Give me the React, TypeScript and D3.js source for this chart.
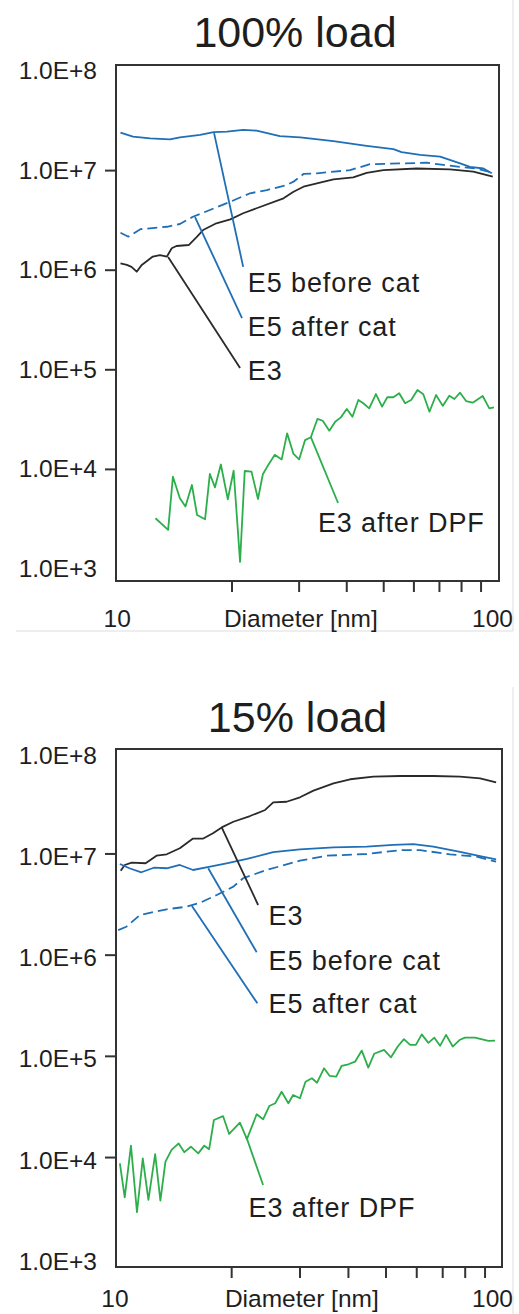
import React from 'react';
import * as d3 from 'd3';

// ---------- data ----------
const X_MINOR_TICKS = [20, 30, 40, 50, 60, 70, 80, 90];
const Y_TICKS = [1e8, 1e7, 1e6, 1e5, 1e4, 1e3];
const Y_TICK_LABELS = ['1.0E+8', '1.0E+7', '1.0E+6', '1.0E+5', '1.0E+4', '1.0E+3'];
const X_END_LABELS = ['10', '100'];
const X_AXIS_TITLE = 'Diameter [nm]';

// 100% load
const L100_E5B_D = [10.2, 11.0, 12.2, 13.75, 14.6, 16.5, 17.9, 19.4, 21.4, 23.2, 26.7, 30.2, 36.9, 45.1, 53.0, 55.7, 62.3, 70.3, 79.3, 84.2, 91.3, 96.0];
const L100_E5B_V = [2.40e7, 2.19e7, 2.11e7, 2.06e7, 2.16e7, 2.28e7, 2.43e7, 2.46e7, 2.56e7, 2.52e7, 2.22e7, 2.16e7, 1.98e7, 1.77e7, 1.64e7, 1.53e7, 1.44e7, 1.38e7, 1.18e7, 1.09e7, 1.05e7, 9.4e6];
const L100_E5A_D = [10.2, 10.7, 11.5, 13.5, 14.6, 15.8, 17.5, 19.8, 22.3, 24.7, 27.8, 29.0, 30.8, 33.4, 40.8, 46.0, 55.2, 64.8, 71.7, 79.3, 87.7, 96.6];
const L100_E5A_V = [2.38e6, 2.17e6, 2.58e6, 2.73e6, 2.91e6, 3.44e6, 4.02e6, 4.87e6, 5.92e6, 6.38e6, 7.16e6, 7.74e6, 9.25e6, 9.4e6, 1.01e7, 1.16e7, 1.18e7, 1.20e7, 1.14e7, 1.09e7, 1.05e7, 9.5e6];
const L100_E3_D = [10.2, 10.6, 10.9, 11.25, 11.6, 12.4, 12.95, 13.5, 13.9, 14.3, 15.4, 16.2, 16.8, 18.2, 19.8, 21.4, 23.2, 27.3, 29.0, 30.8, 36.9, 41.6, 45.1, 49.9, 61.0, 74.6, 85.9, 96.6];
const L100_E3_V = [1.17e6, 1.13e6, 1.08e6, 9.66e5, 1.13e6, 1.37e6, 1.42e6, 1.37e6, 1.66e6, 1.75e6, 1.79e6, 2.17e6, 2.53e6, 2.96e6, 3.24e6, 3.73e6, 4.19e6, 5.27e6, 6.14e6, 6.89e6, 8.18e6, 8.57e6, 9.5e6, 1.01e7, 1.05e7, 1.03e7, 9.75e6, 8.69e6];
const L100_DPF_D = [12.6, 13.6, 14.0, 14.6, 15.1, 15.7, 16.2, 17.0, 17.5, 18.05, 18.7, 19.5, 20.2, 21.0, 21.6, 22.5, 23.4, 24.1, 24.9, 25.9, 27.0, 27.9, 29.0, 30.0, 31.1, 32.2, 33.5, 34.6, 36.0, 37.3, 38.6, 40.0, 41.4, 42.9, 44.2, 45.8, 47.7, 49.5, 51.1, 53.0, 54.9, 56.9, 59.0, 61.3, 63.5, 65.9, 68.6, 71.4, 74.3, 76.6, 79.3, 82.2, 85.6, 90.9, 94.6, 97.3];
const L100_DPF_V = [3.23e3, 2.47e3, 8.45e3, 5.13e3, 4.23e3, 6.97e3, 3.48e3, 3.16e3, 9.0e3, 6.61e3, 1.12e4, 5.01e3, 9.7e3, 1.18e3, 9.64e3, 9.5e3, 5.05e3, 8.93e3, 1.11e4, 1.40e4, 1.26e4, 2.30e4, 1.43e4, 1.26e4, 1.97e4, 2.10e4, 3.21e4, 3.08e4, 2.45e4, 3.01e4, 3.33e4, 4.04e4, 3.38e4, 4.98e4, 4.61e4, 4.10e4, 5.71e4, 4.27e4, 5.30e4, 5.30e4, 5.81e4, 4.61e4, 4.98e4, 6.27e4, 5.68e4, 3.79e4, 5.58e4, 4.34e4, 5.50e4, 5.09e4, 5.89e4, 4.86e4, 4.68e4, 5.46e4, 4.10e4, 4.20e4];

// 15% load
const L15_E3_D = [10.35, 10.6, 11.05, 12.0, 12.8, 13.6, 14.7, 15.9, 16.9, 17.9, 18.85, 20.2, 22.3, 24.4, 25.6, 27.7, 30.0, 32.5, 36.6, 40.4, 46.4, 54.3, 66.2, 77.6, 87.4, 96.1];
const L15_E3_V = [6.83e6, 7.78e6, 8.2e6, 8.09e6, 9.61e6, 9.92e6, 1.14e7, 1.42e7, 1.42e7, 1.60e7, 1.83e7, 2.08e7, 2.37e7, 2.72e7, 3.24e7, 3.28e7, 3.63e7, 4.22e7, 4.99e7, 5.47e7, 5.80e7, 5.89e7, 5.89e7, 5.80e7, 5.59e7, 5.11e7];
const L15_E5B_D = [10.3, 10.9, 11.7, 12.6, 13.6, 14.7, 15.9, 17.6, 19.4, 21.9, 25.6, 30.0, 36.6, 44.6, 52.2, 58.8, 66.2, 77.6, 87.4, 96.1];
const L15_E5B_V = [7.96e6, 7.22e6, 6.59e6, 7.31e6, 7.22e6, 7.78e6, 6.94e6, 7.48e6, 8.09e6, 8.92e6, 1.04e7, 1.11e7, 1.16e7, 1.18e7, 1.23e7, 1.25e7, 1.18e7, 1.05e7, 9.54e6, 8.85e6];
const L15_E5A_D = [10.2, 10.7, 11.6, 13.6, 15.3, 16.6, 18.3, 20.2, 21.4, 24.6, 30.0, 35.2, 44.6, 54.3, 61.2, 73.1, 85.6, 96.1];
const L15_E5A_V = [1.77e6, 1.91e6, 2.49e6, 2.84e6, 3.01e6, 3.30e6, 3.93e6, 4.75e6, 5.75e6, 6.94e6, 8.58e6, 9.61e6, 9.99e6, 1.09e7, 1.09e7, 9.92e6, 9.4e6, 8.39e6];
const L15_DPF_D = [10.3, 10.6, 11.0, 11.4, 11.8, 12.2, 12.7, 13.1, 13.5, 14.0, 14.6, 15.1, 15.7, 16.4, 17.0, 17.5, 18.0, 19.0, 19.7, 21.0, 21.9, 23.2, 24.1, 25.0, 25.9, 26.9, 28.0, 28.8, 30.0, 31.0, 32.2, 33.2, 34.6, 35.8, 37.2, 38.4, 40.0, 41.6, 43.3, 45.0, 46.6, 49.4, 51.5, 53.6, 55.6, 57.7, 59.7, 61.8, 64.3, 66.6, 68.9, 71.4, 74.3, 77.3, 79.9, 84.8, 91.8, 95.5];
const L15_DPF_V = [8.78e3, 4.05e3, 1.31e4, 2.88e3, 9.83e3, 3.81e3, 1.08e4, 3.75e3, 9.1e3, 1.19e4, 1.38e4, 1.13e4, 1.28e4, 1.10e4, 1.31e4, 1.21e4, 2.35e4, 2.57e4, 1.71e4, 2.21e4, 1.52e4, 2.68e4, 2.39e4, 3.23e4, 3.44e4, 4.47e4, 3.44e4, 4.15e4, 3.85e4, 5.62e4, 6.07e4, 5.49e4, 7.62e4, 6.40e4, 6.30e4, 8.03e4, 8.35e4, 8.86e4, 1.14e5, 7.73e4, 1.06e5, 1.16e5, 9.79e4, 1.25e5, 1.48e5, 1.30e5, 1.30e5, 1.65e5, 1.36e5, 1.53e5, 1.27e5, 1.63e5, 1.25e5, 1.45e5, 1.53e5, 1.53e5, 1.42e5, 1.43e5];

// annotation labels: [anchor d, anchor v], [line end d, v], [text d, v]
const L100_LABELS = ['E5 before cat', 'E5 after cat', 'E3', 'E3 after DPF'];
const L100_ANCHORS = [[17.95, 2.38e7], [16.0, 3.42e6], [13.6, 1.36e6], [32.2, 2.11e4]];
const L100_ENDS = [[21.4, 1.08e6], [21.25, 3.31e5], [21.0, 1.04e5], [37.95, 4.6e3]];
const L100_TEXTPOS = [[22.0, 6.0e5], [22.0, 2.18e5], [22.0, 7.9e4], [33.6, 2.35e3]];

const L15_LABELS = ['E3', 'E5 before cat', 'E5 after cat', 'E3 after DPF'];
const L15_ANCHORS = [[18.85, 1.83e7], [17.4, 7.22e6], [15.8, 3.06e6], [21.8, 1.61e4]];
const L15_ENDS = [[23.4, 3.13e6], [23.2, 1.07e6], [23.3, 3.34e5], [24.1, 5.36e3]];
const L15_TEXTPOS = [[24.9, 1.99e6], [24.9, 7.13e5], [24.9, 2.66e5], [22.1, 2.6e3]];

// ---------- styles ----------
const BLUE = '#1f6fb6';
const GREEN = '#2caf4a';
const BLACK = '#2a2a2a';
const AXIS = '#333333';
const TEXT = '#1e1e1e';
const FONT = "'Liberation Sans', Arial, Helvetica, sans-serif";

type Series = { d: number[]; v: number[]; color: string; dash?: string };

const panels = [
  {
    title: '100% load',
    titleX: 295,
    titleY: 47,
    box: { x0: 116, x1: 499, y0: 65, y1: 581 },
    xr: [117.2, 498.5],
    yr: [569, 71],
    labelDy: 8,
    xLabelY: 627,
    series: [
      { d: L100_E5B_D, v: L100_E5B_V, color: BLUE },
      { d: L100_E5A_D, v: L100_E5A_V, color: BLUE, dash: '10,5' },
      { d: L100_E3_D, v: L100_E3_V, color: BLACK },
      { d: L100_DPF_D, v: L100_DPF_V, color: GREEN },
    ] as Series[],
    labels: L100_LABELS,
    anchors: L100_ANCHORS,
    ends: L100_ENDS,
    textPos: L100_TEXTPOS,
    labelColors: [BLUE, BLUE, BLACK, GREEN],
  },
  {
    title: '15% load',
    titleX: 297.5,
    titleY: 732,
    box: { x0: 116, x1: 502, y0: 749, y1: 1267 },
    xr: [114.9, 502.8],
    yr: [1258.75, 752.75],
    labelDy: 11,
    xLabelY: 1307,
    series: [
      { d: L15_E3_D, v: L15_E3_V, color: BLACK },
      { d: L15_E5B_D, v: L15_E5B_V, color: BLUE },
      { d: L15_E5A_D, v: L15_E5A_V, color: BLUE, dash: '10,5' },
      { d: L15_DPF_D, v: L15_DPF_V, color: GREEN },
    ] as Series[],
    labels: L15_LABELS,
    anchors: L15_ANCHORS,
    ends: L15_ENDS,
    textPos: L15_TEXTPOS,
    labelColors: [BLACK, BLUE, BLUE, GREEN],
  },
];

function Panel({ p }: { p: (typeof panels)[number] }) {
  const x = d3.scaleLog().domain([10, 100]).range(p.xr);
  const y = d3.scaleLog().domain([1e3, 1e8]).range(p.yr);
  const line = d3
    .line<[number, number]>()
    .x((q) => x(q[0]))
    .y((q) => y(q[1]));
  const b = p.box;
  return (
    <g>
      <text x={p.titleX} y={p.titleY} textAnchor="middle" fontSize={43} fill={TEXT} fontFamily={FONT}>
        {p.title}
      </text>
      {p.series.map((s, i) => (
        <path
          key={i}
          d={line(s.d.map((dd, j) => [dd, s.v[j]] as [number, number])) || ''}
          fill="none"
          stroke={s.color}
          strokeWidth={1.8}
          strokeDasharray={s.dash}
          strokeLinejoin="round"
        />
      ))}
      {p.labels.map((lab, i) => (
        <g key={lab}>
          <line
            x1={x(p.anchors[i][0])}
            y1={y(p.anchors[i][1])}
            x2={x(p.ends[i][0])}
            y2={y(p.ends[i][1])}
            stroke={p.labelColors[i]}
            strokeWidth={1.8}
          />
          <text
            x={x(p.textPos[i][0])}
            y={y(p.textPos[i][1])}
            fontSize={27}
            letterSpacing={0.9}
            fill={TEXT}
            fontFamily={FONT}
          >
            {lab}
          </text>
        </g>
      ))}
      <rect x={b.x0} y={b.y0} width={b.x1 - b.x0} height={b.y1 - b.y0} fill="none" stroke={AXIS} strokeWidth={2} />
      {Y_TICKS.map((t, i) => (
        <g key={t}>
          {t < 1e8 && t > 1e3 && (
            <line x1={b.x0 - 11} x2={b.x0} y1={y(t)} y2={y(t)} stroke={AXIS} strokeWidth={2} />
          )}
          <text x={97} y={y(t) + p.labelDy} textAnchor="end" fontSize={24.5} fill={TEXT} fontFamily={FONT}>
            {Y_TICK_LABELS[i]}
          </text>
        </g>
      ))}
      {X_MINOR_TICKS.map((t) => (
        <line key={t} x1={x(t)} x2={x(t)} y1={b.y1} y2={b.y1 + 11} stroke={AXIS} strokeWidth={2} />
      ))}
      <text x={x(10)} y={p.xLabelY} textAnchor="middle" fontSize={24.5} fill={TEXT} fontFamily={FONT}>
        {X_END_LABELS[0]}
      </text>
      <text x={Math.min(x(100), 492.5)} y={p.xLabelY} textAnchor="middle" fontSize={24.5} fill={TEXT} fontFamily={FONT}>
        {X_END_LABELS[1]}
      </text>
      <text x={x(Math.sqrt(10 * 100)) - 7} y={p.xLabelY} textAnchor="middle" fontSize={24.5} fill={TEXT} fontFamily={FONT}>
        {X_AXIS_TITLE}
      </text>
    </g>
  );
}

export default function App() {
  return (
    <svg
      width={519}
      height={1314}
      viewBox="0 0 519 1314"
      style={{ position: 'absolute', left: 0, top: 0, background: '#fff', display: 'block' }}
    >
      <rect x={0} y={0} width={519} height={1314} fill="#fff" />
      {/* faint panel frames */}
      <line x1={513} x2={513} y1={0} y2={631} stroke="#dddddd" strokeWidth={1} />
      <line x1={16} x2={513} y1={631} y2={631} stroke="#dddddd" strokeWidth={1} />
      <line x1={513} x2={513} y1={687} y2={1314} stroke="#dddddd" strokeWidth={1} />
      {panels.map((p) => (
        <Panel key={p.title} p={p} />
      ))}
    </svg>
  );
}
